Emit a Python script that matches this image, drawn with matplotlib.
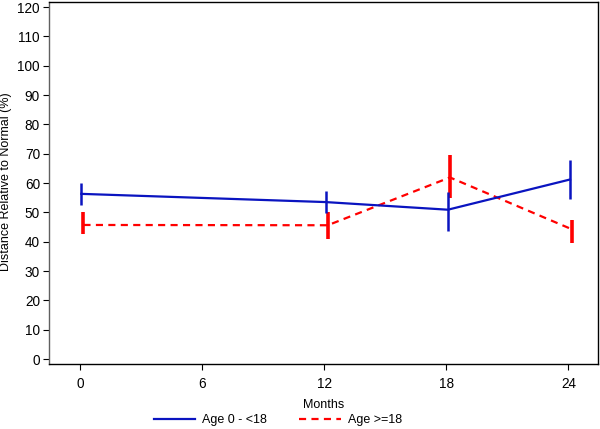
import matplotlib
matplotlib.use("Agg")
import matplotlib.pyplot as plt
from matplotlib.lines import Line2D
import numpy as np

plt.rcParams['font.family'] = ['Liberation Sans', 'DejaVu Sans']

months = [0, 12, 18, 24]
young_mean = [56.3, 53.5, 50.9, 61.2]
young_low = [52.6, 49.7, 43.8, 54.5]
young_high = [60.0, 57.3, 57.1, 67.9]
adult_mean = [45.7, 45.6, 61.9, 44.2]
adult_low = [42.5, 41.0, 54.8, 39.7]
adult_high = [50.0, 50.0, 69.6, 47.4]
xticks = [0, 6, 12, 18, 24]
yticks = list(range(0, 121, 10))
series_labels = ['Age 0 - <18', 'Age >=18']

BLUE = '#0a14c0'
RED = '#ff0000'

fig = plt.figure(figsize=(6.0, 4.29), dpi=100)
ax = fig.add_axes([0.0817, 0.1515, 0.9145, 0.8438])

xb = np.array(months) + 0.08
xr = np.array(months) + 0.18
ym = np.array(young_mean)
am = np.array(adult_mean)

ax.errorbar(xb, ym, yerr=[ym - np.array(young_low), np.array(young_high) - ym],
            color=BLUE, lw=1.6, elinewidth=1.8, capsize=0, zorder=3)
ln = ax.errorbar(xr, am, yerr=[am - np.array(adult_low), np.array(adult_high) - am],
                 color=RED, lw=1.6, elinewidth=2.6, capsize=0, zorder=2)
ln[0].set_dashes((3.2, 2.4))

ax.set_xlim(-1.51, 25.44)
ax.set_ylim(-1.7, 121.7)
ax.set_xticks(xticks)
ax.set_yticks(yticks)
ax.tick_params(axis='both', labelsize=9.8, length=4, width=0.8, direction='out', colors='black')
ax.tick_params(axis='x', pad=5)
ax.tick_params(axis='y', pad=2.5)
ax.set_xlabel('Months', fontsize=9, labelpad=6)
ax.set_ylabel('Distance Relative to Normal (%)', fontsize=9)
ax.yaxis.set_label_coords(-0.068, 0.505)
for s in ax.spines.values():
    s.set_linewidth(1.0)
    s.set_color('black')
ax.spines['left'].set_color('#606060')

h1 = Line2D([], [], color=BLUE, lw=1.6)
h2 = Line2D([], [], color=RED, lw=1.6, dashes=(3.2, 2.4))
fig.legend([h1, h2], series_labels, loc='center', bbox_to_anchor=(0.463, 0.021), ncol=2,
           frameon=False, fontsize=9, handlelength=3.3, columnspacing=2.6,
           handletextpad=0.55)

fig.savefig('out.png', dpi=100)
